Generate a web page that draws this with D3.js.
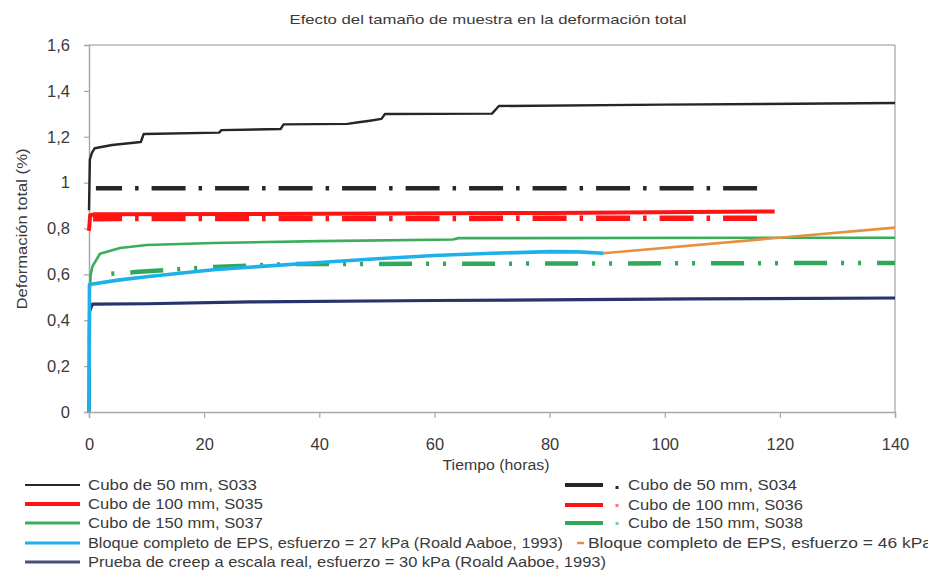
<!DOCTYPE html>
<html><head><meta charset="utf-8">
<script src="https://cdn.jsdelivr.net/npm/d3@7"></script>
<style>
body{margin:0;background:#fff;}
text{font-family:"Liberation Sans",Arial,sans-serif;fill:#3a3a3a;}
</style></head>
<body><svg id="c" width="928" height="581"></svg>
<script>
// ---------- data (time in hours, total deformation in %) ----------
const xTicks = [0,20,40,60,80,100,120,140];
const yTicks = [0,0.2,0.4,0.6,0.8,1,1.2,1.4,1.6];
const yTickLabels = ["0","0,2","0,4","0,6","0,8","1","1,2","1,4","1,6"];

const s033 = [[0,0.88],[0.15,1.10],[0.5,1.13],[1,1.15],[4,1.164],[9.0,1.177],[9.5,1.212],[22.6,1.218],[23.0,1.229],[33.3,1.234],[33.8,1.254],[44.9,1.256],[46.5,1.262],[48.8,1.27],[50.8,1.278],[51.4,1.299],[70.0,1.301],[71.2,1.334],[100,1.340],[140,1.347]];
const s034 = [[1.2,0.976],[116.2,0.976]];
const s035 = [[0,0.79],[0.2,0.858],[1,0.862],[40,0.864],[80,0.868],[119.1,0.874]];
const s036 = [[0.7,0.843],[116.2,0.845]];
const s037 = [[0,0.30],[0.1,0.52],[0.3,0.6],[0.6,0.635],[1.9,0.69],[5.4,0.715],[10,0.728],[21.6,0.737],[40,0.745],[63.2,0.752],[64.2,0.758],[140,0.760]];
const s038 = [[1.9,0.60],[8,0.61],[21.6,0.632],[35,0.645],[140,0.650]];
const eps27 = [[0,0],[0.08,0.556],[5,0.575],[10,0.59],[21.6,0.62],[30,0.635],[40,0.652],[50,0.668],[60,0.682],[70,0.692],[80,0.699],[85,0.698],[89.4,0.692]];
const eps46 = [[89.4,0.692],[140,0.804]];
const creep30 = [[0,0],[0.1,0.44],[0.6,0.47],[10,0.472],[28,0.48],[60,0.486],[105,0.493],[140,0.497]];

const legendLeft = ["Cubo de 50 mm, S033","Cubo de 100 mm, S035","Cubo de 150 mm, S037",
  "Bloque completo de EPS, esfuerzo = 27 kPa (Roald Aaboe, 1993)",
  "Prueba de creep a escala real, esfuerzo = 30 kPa (Roald Aaboe, 1993)"];
const legendRight = ["Cubo de 50 mm, S034","Cubo de 100 mm, S036","Cubo de 150 mm, S038"];
const legendEps46 = "Bloque completo de EPS, esfuerzo = 46 kPa";
const title = "Efecto del tamaño de muestra en la deformación total";
const xTitle = "Tiempo (horas)";
const yTitle = "Deformación total (%)";

// ---------- layout ----------
const svg = d3.select("#c");
const x = d3.scaleLinear().domain([0,140]).range([89,895]);
const y = d3.scaleLinear().domain([0,1.6]).range([412,45]);
const axisCol = "#a8a8a8";

// frame
svg.append("line").attr("x1",x(0)).attr("x2",x(140)).attr("y1",y(1.6)).attr("y2",y(1.6)).attr("stroke","#b5b5c0").attr("stroke-width",1.5);
svg.append("line").attr("x1",x(140)).attr("x2",x(140)).attr("y1",y(1.6)).attr("y2",y(0)).attr("stroke","#a0a0aa").attr("stroke-width",1.2);

const gy = svg.append("g").attr("transform",`translate(${x(0)},0)`)
  .call(d3.axisLeft(y).tickValues(yTicks).tickSize(5).tickPadding(14).tickFormat((d,i)=>yTickLabels[i]));
const gx = svg.append("g").attr("transform",`translate(0,${y(0)})`)
  .call(d3.axisBottom(x).tickValues(xTicks).tickSize(6).tickPadding(20).tickFormat(d=>String(d)));
[gx,gy].forEach(g=>{
  g.selectAll("path.domain").attr("stroke",axisCol).attr("stroke-width",1.5);
  g.selectAll(".tick line").attr("stroke",axisCol).attr("stroke-width",1.2);
  g.selectAll(".tick text").attr("font-size",16.5).style("fill","#3a3a3a").attr("font-family","Liberation Sans, Arial, sans-serif");
});

// titles
svg.append("text").attr("x",488).attr("y",24).attr("text-anchor","middle").attr("font-size",13)
  .attr("textLength",397).attr("lengthAdjust","spacingAndGlyphs").text(title);
svg.append("text").attr("x",496).attr("y",470).attr("text-anchor","middle").attr("font-size",14)
  .attr("textLength",107).attr("lengthAdjust","spacingAndGlyphs").text(xTitle);
svg.append("text").attr("transform","translate(27,229) rotate(-90)").attr("text-anchor","middle").attr("font-size",14)
  .attr("textLength",161).attr("lengthAdjust","spacingAndGlyphs").text(yTitle);

// ---------- series ----------
const line = d3.line().x(d=>x(d[0])).y(d=>y(d[1]));
function draw(data,color,w,dash,dashStartT,period){
  const p = svg.append("path").datum(data).attr("d",line).attr("fill","none")
    .attr("stroke",color).attr("stroke-width",w).attr("stroke-linejoin","round");
  if(dash){
    const x0 = x(data[0][0]), xs = x(dashStartT);
    const off = (((x0 - xs) % period) + period) % period;
    p.attr("stroke-dasharray",dash).attr("stroke-dashoffset",off);
  }
  return p;
}
const C = {black:"#262626", red:"#ff1414", green:"#3aad5c", green2:"#2fa85a", cyan:"#1eb0ea", orange:"#e69040", navy:"#27336a"};

draw(creep30,C.navy,3.2);
draw(s038,C.green2,4.5,"33,14,3,14,3,16",21.6,83);
draw(s037,C.green,2.6);
draw(eps27,C.cyan,3.6);
draw(eps46,C.orange,2.6);
draw(s036,C.red,5.5,"34,13,3.5,13",21.9,63.5);
draw(s035,C.red,4);
draw(s034,C.black,4.5,"34,13,3.5,13",21.9,63.5);
draw(s033,C.black,2.4);

// ---------- legend ----------
const leftCols = [C.black,C.red,C.green,C.cyan,"#4a4f7a"];
const leftW = [2.2,4,3,3,3];
const leftY = [485,504,523,543,562];
const leftLen = [169,175,175,475,518];
legendLeft.forEach((t,i)=>{
  svg.append("line").attr("x1",25).attr("x2",80).attr("y1",leftY[i]).attr("y2",leftY[i]).attr("stroke",leftCols[i]).attr("stroke-width",leftW[i]);
  svg.append("text").attr("x",88).attr("y",leftY[i]+5).attr("font-size",14.5)
    .attr("textLength",leftLen[i]).attr("lengthAdjust","spacingAndGlyphs").text(t);
});
const rightCols = [C.black,C.red,C.green2];
const rightY = [485,505,523];
const rightLen = [169,175,175];
legendRight.forEach((t,i)=>{
  svg.append("line").attr("x1",565).attr("x2",603).attr("y1",rightY[i]).attr("y2",rightY[i]).attr("stroke",rightCols[i]).attr("stroke-width",4);
  svg.append("rect").attr("x",615.5).attr("y",rightY[i]+ (i==0?1:-1)).attr("width",3).attr("height",3).attr("fill",rightCols[i]).attr("opacity",i==0?1:0.6);
  svg.append("text").attr("x",628).attr("y",rightY[i]+5).attr("font-size",14.5)
    .attr("textLength",rightLen[i]).attr("lengthAdjust","spacingAndGlyphs").text(t);
});
svg.append("line").attr("x1",577).attr("x2",584).attr("y1",543).attr("y2",543).attr("stroke",C.orange).attr("stroke-width",2.5);
svg.append("text").attr("x",588).attr("y",548).attr("font-size",14.5)
  .attr("textLength",344).attr("lengthAdjust","spacingAndGlyphs").text(legendEps46);
</script></body></html>
